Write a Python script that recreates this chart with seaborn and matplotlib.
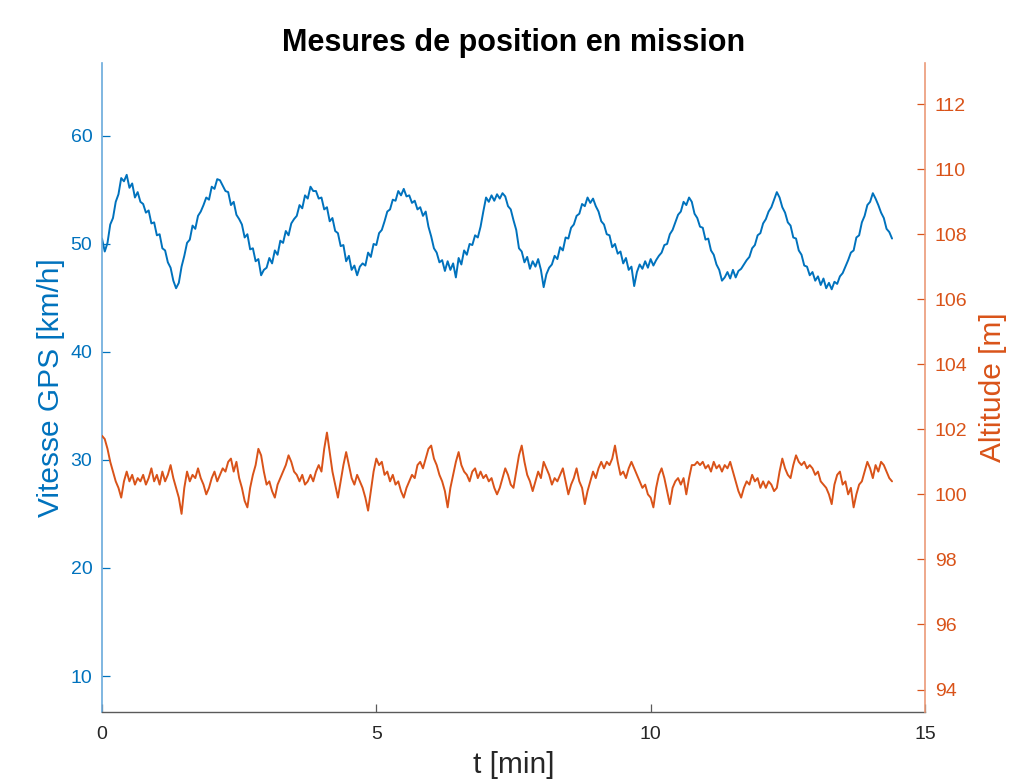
import numpy as np
import matplotlib
matplotlib.use("Agg")
import matplotlib.pyplot as plt
import seaborn as sns

dt_min = 0.05

speed_kmh = [
    50.5, 49.3, 50.1, 51.8, 52.4, 53.9, 54.6, 56.1, 55.8, 56.4, 55.2, 55.6, 54.3, 54.8, 53.9, 53.7, 52.9, 53.1, 51.9, 52.0,
    50.8, 50.9, 49.6, 49.4, 48.3, 47.8, 46.6, 45.9, 46.4, 47.9, 48.9, 50.1, 50.4, 51.7, 51.4, 52.6, 53.0, 53.6, 54.3, 54.1,
    55.3, 55.1, 56.0, 55.9, 55.4, 54.9, 54.8, 53.6, 53.9, 52.7, 52.3, 51.8, 50.6, 50.9, 49.5, 49.6, 48.4, 48.6, 47.1, 47.6,
    47.8, 48.7, 48.2, 49.4, 49.0, 50.3, 50.1, 51.2, 50.8, 51.9, 52.3, 52.6, 53.6, 53.3, 54.5, 54.2, 55.3, 54.9, 54.9, 54.2,
    54.3, 53.2, 53.4, 52.1, 52.4, 51.2, 51.0, 49.8, 49.9, 48.4, 48.9, 47.6, 48.0, 47.1, 47.9, 48.2, 48.0, 49.2, 48.8, 50.0,
    49.9, 51.0, 51.3, 52.1, 53.0, 53.2, 54.1, 54.0, 54.9, 54.5, 55.1, 54.4, 54.5, 53.8, 54.0, 53.2, 53.4, 52.6, 53.0, 51.6,
    50.7, 49.6, 49.2, 48.3, 48.5, 47.5, 48.4, 47.6, 48.2, 46.9, 48.7, 48.1, 49.4, 49.0, 50.0, 49.9, 50.8, 50.6, 51.6, 53.0,
    54.3, 53.9, 54.5, 54.0, 54.6, 54.2, 54.7, 54.4, 53.5, 53.2, 52.2, 51.3, 49.6, 49.3, 48.3, 48.8, 47.7, 48.4, 47.9, 48.6,
    47.6, 46.0, 47.2, 47.8, 48.1, 48.9, 48.6, 49.7, 49.4, 50.6, 50.5, 51.5, 51.8, 52.6, 52.8, 53.7, 53.5, 54.3, 53.8, 54.2,
    53.5, 53.0, 52.1, 51.8, 50.9, 50.8, 49.7, 50.0, 49.1, 49.3, 48.2, 48.7, 47.6, 47.9, 46.1, 47.4, 48.1, 47.7, 48.4, 47.8,
    48.6, 48.0, 48.5, 48.9, 49.2, 49.9, 50.0, 50.9, 51.3, 52.0, 52.7, 53.0, 53.9, 53.6, 54.3, 53.9, 52.8, 52.4, 51.6, 51.5,
    50.4, 50.5, 49.4, 49.0, 48.1, 47.6, 46.6, 46.9, 47.4, 46.8, 47.6, 46.9, 47.5, 47.7, 48.1, 48.5, 48.8, 49.6, 49.9, 50.8,
    51.0, 51.9, 52.3, 53.0, 53.4, 54.1, 54.8, 54.3, 53.4, 52.9, 52.0, 51.7, 50.6, 50.5, 49.4, 49.0, 48.0, 47.9, 47.1, 47.4,
    46.6, 47.0, 46.2, 46.8, 45.9, 46.4, 45.8, 46.5, 46.3, 47.0, 47.3, 47.9, 48.5, 49.2, 49.4, 50.6, 50.8, 52.0, 52.6, 53.6,
    53.9, 54.7, 54.2, 53.6, 52.9, 52.4, 51.4, 51.1, 50.5,
]

altitude_m = [
    101.8, 101.7, 101.4, 101.0, 100.7, 100.4, 100.2, 99.9, 100.4, 100.7, 100.4, 100.6, 100.3, 100.5, 100.4, 100.6, 100.3, 100.5, 100.8, 100.4,
    100.6, 100.3, 100.7, 100.4, 100.6, 100.9, 100.5, 100.2, 99.9, 99.4, 100.2, 100.7, 100.4, 100.6, 100.5, 100.8, 100.5, 100.3, 100.0, 100.2,
    100.5, 100.7, 100.4, 100.6, 100.8, 100.7, 101.0, 101.1, 100.7, 101.0, 100.5, 100.2, 99.8, 99.6, 100.2, 100.6, 100.9, 101.4, 101.2, 100.7,
    100.3, 100.4, 100.1, 99.9, 100.3, 100.5, 100.7, 100.9, 101.2, 101.0, 100.7, 100.6, 100.4, 100.6, 100.3, 100.4, 100.6, 100.4, 100.7, 100.9,
    100.7, 101.4, 101.9, 101.3, 100.7, 100.3, 99.9, 100.4, 100.9, 101.3, 100.9, 100.5, 100.3, 100.6, 100.4, 100.2, 99.9, 99.5, 100.1, 100.7,
    101.1, 100.9, 101.0, 100.6, 100.7, 100.4, 100.6, 100.3, 100.4, 100.1, 99.9, 100.2, 100.4, 100.6, 100.5, 100.9, 101.0, 100.8, 101.1, 101.4,
    101.5, 101.1, 100.9, 100.6, 100.4, 100.1, 99.6, 100.2, 100.6, 101.0, 101.3, 100.9, 100.7, 100.6, 100.4, 100.7, 100.8, 100.5, 100.7, 100.5,
    100.6, 100.4, 100.5, 100.2, 100.0, 100.2, 100.5, 100.8, 100.6, 100.3, 100.2, 100.7, 101.2, 101.5, 101.0, 100.6, 100.4, 100.1, 100.4, 100.7,
    100.5, 101.0, 100.8, 100.6, 100.3, 100.5, 100.4, 100.6, 100.8, 100.4, 100.0, 100.3, 100.5, 100.8, 100.4, 100.2, 99.7, 100.1, 100.4, 100.7,
    100.5, 100.8, 101.0, 100.8, 101.0, 100.9, 101.1, 101.5, 101.0, 100.6, 100.7, 100.5, 100.8, 101.0, 100.8, 100.6, 100.4, 100.2, 100.3, 100.0,
    99.9, 99.6, 100.2, 100.6, 100.8, 100.5, 100.1, 99.7, 100.2, 100.4, 100.5, 100.3, 100.5, 100.0, 100.5, 100.9, 100.9, 101.0, 100.9, 101.0,
    100.8, 100.9, 100.7, 101.0, 100.8, 100.9, 100.7, 100.9, 100.8, 101.0, 100.7, 100.4, 100.1, 99.9, 100.2, 100.4, 100.3, 100.6, 100.4, 100.5,
    100.2, 100.4, 100.2, 100.4, 100.3, 100.1, 100.2, 100.7, 101.1, 100.8, 100.6, 100.5, 100.9, 101.2, 101.0, 100.9, 101.0, 100.8, 100.9, 100.8,
    100.6, 100.7, 100.4, 100.3, 100.2, 100.0, 99.7, 100.3, 100.6, 100.7, 100.3, 100.4, 100.0, 100.2, 99.6, 100.0, 100.3, 100.4, 100.7, 101.0,
    100.8, 100.5, 100.9, 100.7, 101.0, 100.9, 100.7, 100.5, 100.4,
]

t_speed = np.arange(len(speed_kmh)) * dt_min
t_alt = np.arange(len(altitude_m)) * dt_min

x_ticks = [0, 5, 10, 15]
left_ticks = [10, 20, 30, 40, 50, 60]
right_ticks = [94, 96, 98, 100, 102, 104, 106, 108, 110, 112]

title = "Mesures de position en mission"
xlabel = "t [min]"
ylabel_left = "Vitesse GPS [km/h]"
ylabel_right = "Altitude [m]"

# ---------------- style ----------------
BLUE = "#0072BD"
ORANGE = "#D95319"
DARK = "#262626"

sns.set_style("white")
plt.rcParams["font.family"] = ["Liberation Sans", "DejaVu Sans"]

fig = plt.figure(figsize=(10.10, 7.83), dpi=100)
ax = fig.add_axes([0.101, 0.0907, 0.8148, 0.8288])
ax2 = ax.twinx()

sns.lineplot(x=t_speed, y=speed_kmh, ax=ax, color=BLUE, linewidth=1.4,
             estimator=None, sort=False, legend=False)
sns.lineplot(x=t_alt, y=altitude_m, ax=ax2, color=ORANGE, linewidth=1.4,
             estimator=None, sort=False, legend=False)

ax.set_xlim(0, 15)
ax.set_ylim(6.67, 66.75)
ax2.set_ylim(93.31, 113.26)

ax.set_xticks(x_ticks)
ax.set_yticks(left_ticks)
ax2.set_yticks(right_ticks)

for a in (ax, ax2):
    a.spines["top"].set_visible(False)
    a.grid(False)

ax.spines["left"].set_color("#6aaadb")
ax.spines["left"].set_linewidth(1.2)
ax.spines["bottom"].set_color("#5a5a5a")
ax.spines["bottom"].set_linewidth(1.0)
ax.spines["right"].set_visible(False)
ax2.spines["left"].set_visible(False)
ax2.spines["bottom"].set_visible(False)
ax2.spines["right"].set_color("#eb9a78")
ax2.spines["right"].set_linewidth(1.2)

ax.tick_params(axis="x", direction="in", length=6, width=0.9, colors="#5a5a5a",
               labelcolor=DARK, labelsize=14, pad=10, top=False, bottom=True)
ax.tick_params(axis="y", direction="in", length=6, width=0.9, colors=BLUE,
               labelcolor=BLUE, labelsize=14, pad=7, left=True, right=False)
ax2.tick_params(axis="y", direction="in", length=6, width=0.9, colors=ORANGE,
                labelcolor=ORANGE, labelsize=14, pad=7, right=True, left=False)

ax.set_xlabel(xlabel, fontsize=21.5, color=DARK, labelpad=6)
ax.set_ylabel(ylabel_left, fontsize=21.5, color=BLUE, labelpad=4)
ax2.set_ylabel(ylabel_right, fontsize=21.5, color=ORANGE, labelpad=8)
ax.set_title(title, fontsize=22, fontweight="bold", color="black", pad=9)

fig.savefig("out.png", dpi=100)
